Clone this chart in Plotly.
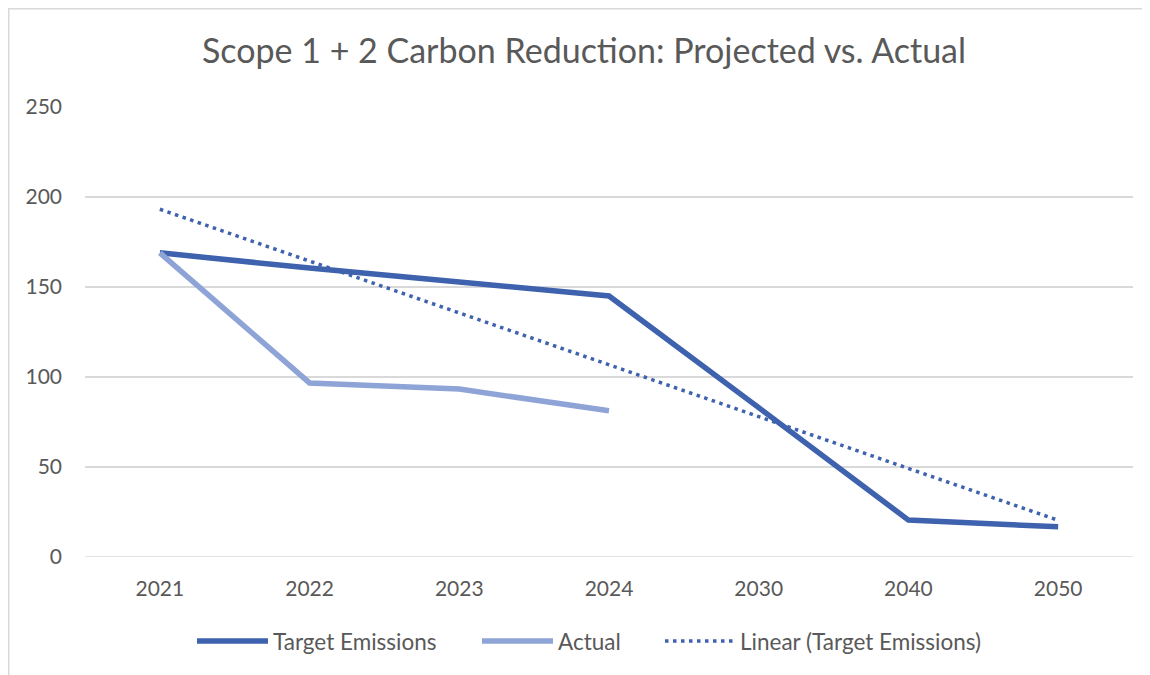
import numpy as np
import plotly.graph_objects as go

categories = ["2021", "2022", "2023", "2024", "2030", "2040", "2050"]
target = [169, 160.5, 152.8, 145, 83, 20.5, 16.8]
actual = [169, 96.7, 93.3, 81.2]
y_ticks = [0, 50, 100, 150, 200, 250]

# Linear trendline (like Excel) over category index
idx = np.arange(1, len(target) + 1)
slope, intercept = np.polyfit(idx, target, 1)
trend = list(slope * idx + intercept)

DARK = "#3E62AD"
LIGHT = "#8FA4D6"
TXT = "#595959"
GRID = "#D9D9D9"
FONT = "Lato"

OFF = 8  # page body margin
W, H = 1150 - OFF, 675 - OFF
L, R, T, B = 85 - OFF, 17, 107 - OFF, 118
pw, ph = W - L - R, H - T - B

def px(x):  # reference page pixel -> paper x
    return (x - OFF - L) / pw

def py(y):  # reference page pixel -> paper y
    return (H - B - (y - OFF)) / ph

SOLID_W = 5.5
DOT = dict(color=DARK, width=3.5, dash="3.5px,4.5px")

fig = go.Figure()
fig.add_trace(go.Scatter(x=categories, y=target, mode="lines", name="Target Emissions",
                         line=dict(color=DARK, width=SOLID_W), showlegend=False))
fig.add_trace(go.Scatter(x=categories[:len(actual)], y=actual, mode="lines", name="Actual",
                         line=dict(color=LIGHT, width=SOLID_W), showlegend=False))
fig.add_trace(go.Scatter(x=categories, y=trend, mode="lines", name="Linear (Target Emissions)",
                         line=DOT, showlegend=False))

shapes = [
    dict(type="rect", xref="paper", yref="paper", x0=px(8.75), x1=px(1175), y0=py(700), y1=py(8.75),
         line=dict(color=GRID, width=1.5), layer="below"),
]
annotations = []
legend_items = [
    ("Target Emissions", dict(color=DARK, width=SOLID_W), 197, 268),
    ("Actual", dict(color=LIGHT, width=SOLID_W), 482, 553),
    ("Linear (Target Emissions)", DOT, 665, 735),
]
ly = 641
for name, ln, x0, x1 in legend_items:
    shapes.append(dict(type="line", xref="paper", yref="paper", x0=px(x0), x1=px(x1),
                       y0=py(ly), y1=py(ly), line=ln))
    annotations.append(dict(text=name, xref="paper", yref="paper", x=px(x1 + 3), y=py(ly),
                            xanchor="left", yanchor="middle", showarrow=False,
                            font=dict(family=FONT, size=22.5, color=TXT)))

fig.update_layout(
    width=W, height=H,
    margin=dict(l=L, r=R, t=T, b=B),
    paper_bgcolor="white", plot_bgcolor="white",
    title=dict(text="Scope 1 + 2 Carbon Reduction: Projected vs. Actual", x=px(584), xanchor="center",
               xref="paper", y=1 - (51 - OFF) / H, yanchor="middle",
               font=dict(family=FONT, size=34, color=TXT)),
    font=dict(family=FONT, size=21, color=TXT),
    xaxis=dict(type="category", categoryorder="array", categoryarray=categories,
               range=[-0.5, len(categories) - 0.5], showgrid=False, zeroline=False,
               showline=False, ticks="", tickfont=dict(family=FONT, size=21, color=TXT),
               ticklabelstandoff=17),
    yaxis=dict(range=[0, 250], tickvals=y_ticks, showgrid=True, gridcolor=GRID, gridwidth=1.5,
               zeroline=False, showline=False, ticks="",
               tickfont=dict(family=FONT, size=21, color=TXT), ticklabelstandoff=22),
    shapes=shapes, annotations=annotations,
    showlegend=False,
)
fig.add_hline(y=0, line=dict(color=GRID, width=1.5), layer="below")

fig.write_html("out.html")
